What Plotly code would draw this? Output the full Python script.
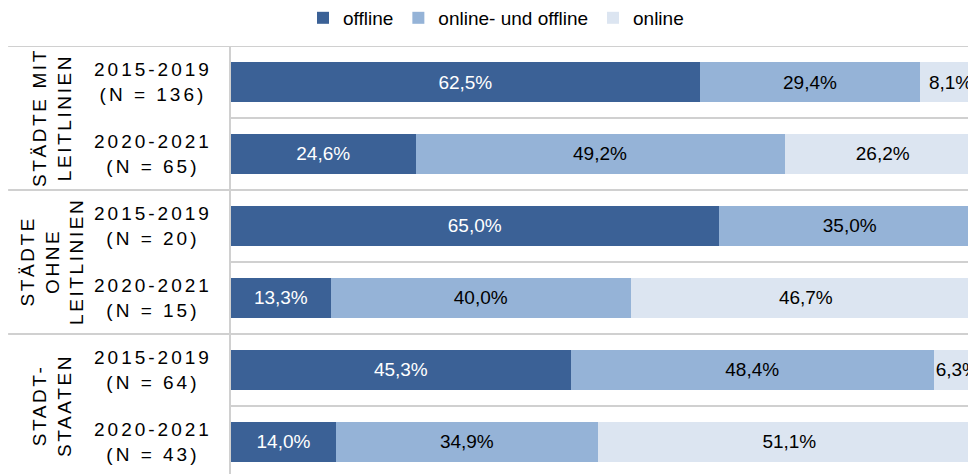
import plotly.graph_objects as go

# Daten
zeitraum = ["2015-2019", "2020-2021", "2015-2019", "2020-2021", "2015-2019", "2020-2021"]
n_werte = [136, 65, 20, 15, 64, 43]
gruppen = ["STÄDTE MIT<br>LEITLINIEN", "STÄDTE<br>OHNE<br>LEITLINIEN", "STADT-<br>STAATEN"]

offline = [62.5, 24.6, 65.0, 13.3, 45.3, 14.0]
online_und_offline = [29.4, 49.2, 35.0, 40.0, 48.4, 34.9]
online = [8.1, 26.2, 0.0, 46.7, 6.3, 51.1]

kategorien = [f"{z}<br>(N = {n})" for z, n in zip(zeitraum, n_werte)]

def fmt(werte):
    return [f"{v:.1f}%".replace(".", ",") if v > 0 else "" for v in werte]

fig = go.Figure()
serien = [
    ("offline", offline, "#3B6196", "white"),
    ("online- und offline", online_und_offline, "#95B3D7", "black"),
    ("online", online, "#DCE5F1", "black"),
]
for name, werte, farbe, textfarbe in serien:
    fig.add_trace(go.Bar(
        y=kategorien, x=werte, name=name, orientation="h",
        marker=dict(color=farbe, line=dict(width=0)),
        text=fmt(werte), textposition="inside", insidetextanchor="middle",
        textfont=dict(color=textfarbe, size=19, family="Liberation Sans"),
        width=0.56, hoverinfo="skip",
    ))

# Trennlinien
shapes = []
for i in range(len(kategorien)):
    gruppengrenze = i % 2 == 0
    shapes.append(dict(
        type="line", xref="paper", yref="y",
        x0=-0.296 if gruppengrenze else 0, x1=1,
        y0=i - 0.5, y1=i - 0.5,
        line=dict(color="#D0D0D0", width=2), layer="below",
    ))

annotations = []
for k, z, n in zip(kategorien, zeitraum, n_werte):
    annotations.append(dict(
        x=-0.1036, xref="paper", y=k, yref="y",
        text=f'<span style="letter-spacing:3px">{z}<br>(N = {n})</span>',
        showarrow=False, align="center", xanchor="center",
        font=dict(size=19, color="black", family="Liberation Sans"),
    ))
for j, g in enumerate(gruppen):
    annotations.append(dict(
        x=-0.2377, xref="paper", y=2 * j + 0.5, yref="y",
        text=f'<span style="letter-spacing:2.6px">{g}</span>',
        showarrow=False, textangle=-90, align="center",
        xanchor="center", yanchor="middle",
        font=dict(size=19, color="black", family="Liberation Sans"),
    ))

fig.update_layout(
    barmode="stack",
    width=976, height=474,
    margin=dict(l=223, r=0, t=38, b=0),
    plot_bgcolor="white", paper_bgcolor="white",
    font=dict(family="Liberation Sans", size=19, color="black"),
    uniformtext=dict(minsize=19, mode="show"),
    xaxis=dict(range=[0, 100.4], visible=False),
    yaxis=dict(
        categoryorder="array", categoryarray=kategorien,
        range=[5.556, -0.5], showticklabels=False, ticks="",
        showgrid=False, zeroline=False,
        showline=True, linecolor="#D0D0D0", linewidth=2,
    ),
    legend=dict(
        orientation="h", xref="container", x=0.5, xanchor="center",
        yref="container", y=0.979, yanchor="middle",
        font=dict(size=19), itemwidth=30, traceorder="normal",
    ),
    shapes=shapes,
    annotations=annotations,
)

fig.write_html("out.html")
